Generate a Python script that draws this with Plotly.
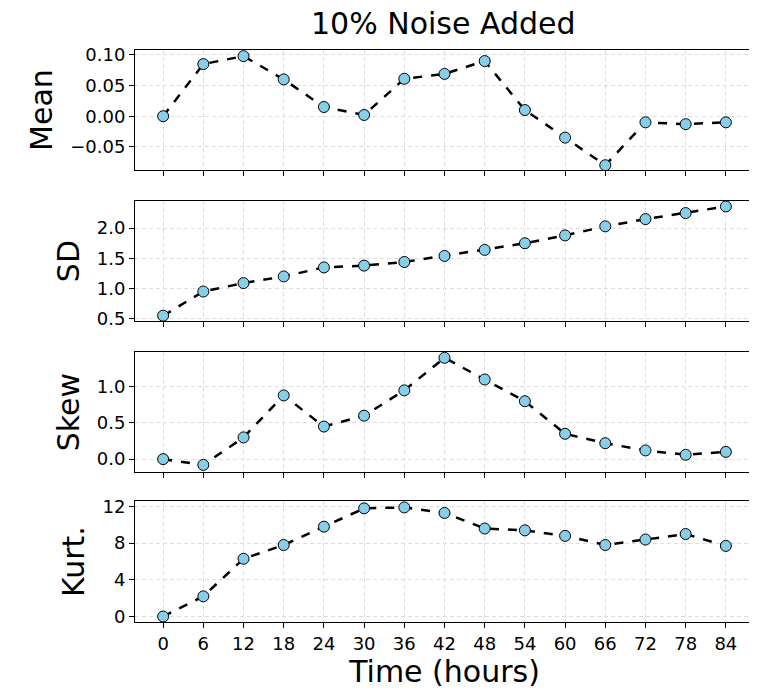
import plotly.graph_objects as go
from plotly.subplots import make_subplots

time = [0, 6, 12, 18, 24, 30, 36, 42, 48, 54, 60, 66, 72, 78, 84]
mean = [0, 0.085, 0.098, 0.06, 0.015, 0.002, 0.061, 0.069, 0.09, 0.01, -0.035, -0.08, -0.01, -0.013, -0.01]
sd = [0.55, 0.95, 1.09, 1.2, 1.35, 1.38, 1.44, 1.54, 1.64, 1.75, 1.88, 2.03, 2.15, 2.25, 2.36]
skew = [0, -0.08, 0.3, 0.88, 0.45, 0.6, 0.95, 1.4, 1.1, 0.8, 0.35, 0.22, 0.12, 0.06, 0.1]
kurt = [0, 2.2, 6.3, 7.8, 9.8, 11.8, 11.9, 11.3, 9.6, 9.4, 8.8, 7.8, 8.4, 9.0, 7.7]

series = [("Mean", mean, [-0.088, 0.108], [-0.05, 0, 0.05, 0.1], ".2f"),
          ("SD", sd, [0.46, 2.45], [0.5, 1.0, 1.5, 2.0], ".1f"),
          ("Skew", skew, [-0.18, 1.48], [0, 0.5, 1.0], ".1f"),
          ("Kurt.", kurt, [-0.6, 12.6], [0, 4, 8, 12], "d")]

fig = make_subplots(rows=4, cols=1, shared_xaxes=True)
domains = [[0.790, 1.0], [0.526, 0.736], [0.262, 0.472], [0.0, 0.2115]]
for i, (name, vals, rng, tv, fmt) in enumerate(series):
    r = i + 1
    fig.add_trace(go.Scatter(x=time, y=vals, mode="lines+markers",
                             line=dict(color="black", width=2.5, dash="dash"),
                             marker=dict(size=11, color="skyblue", line=dict(color="black", width=1)),
                             showlegend=False), row=r, col=1)
    fig.update_yaxes(title_text=name, title_font=dict(size=30), range=rng, tickvals=tv,
                     tickformat=fmt, domain=domains[i], title_standoff=8, row=r, col=1)
    fig.update_xaxes(range=[-4.2, 88.2], tickvals=time, row=r, col=1,
                     showticklabels=(r == 4))

common = dict(showline=True, linecolor="black", linewidth=1, mirror=True, ticks="outside",
              ticklen=5, tickcolor="black", showgrid=True, gridcolor="#dddddd",
              griddash="4px,3px", gridwidth=1, zeroline=False, automargin=False,
              tickfont=dict(size=18, color="black"))
fig.update_xaxes(**common)
fig.update_yaxes(**common)
fig.update_xaxes(title_text="Time (hours)", title_font=dict(size=30), title_standoff=4, row=4, col=1)

fig.update_layout(width=757, height=692, plot_bgcolor="white", paper_bgcolor="white",
                  margin=dict(l=127, r=11, t=42, b=78),
                  font=dict(family="DejaVu Sans", color="black"),
                  title=dict(text="10% Noise Added", x=0.575, xanchor="center", y=0.993, yanchor="top",
                             font=dict(size=30, color="black")))
fig.write_html("out.html")
